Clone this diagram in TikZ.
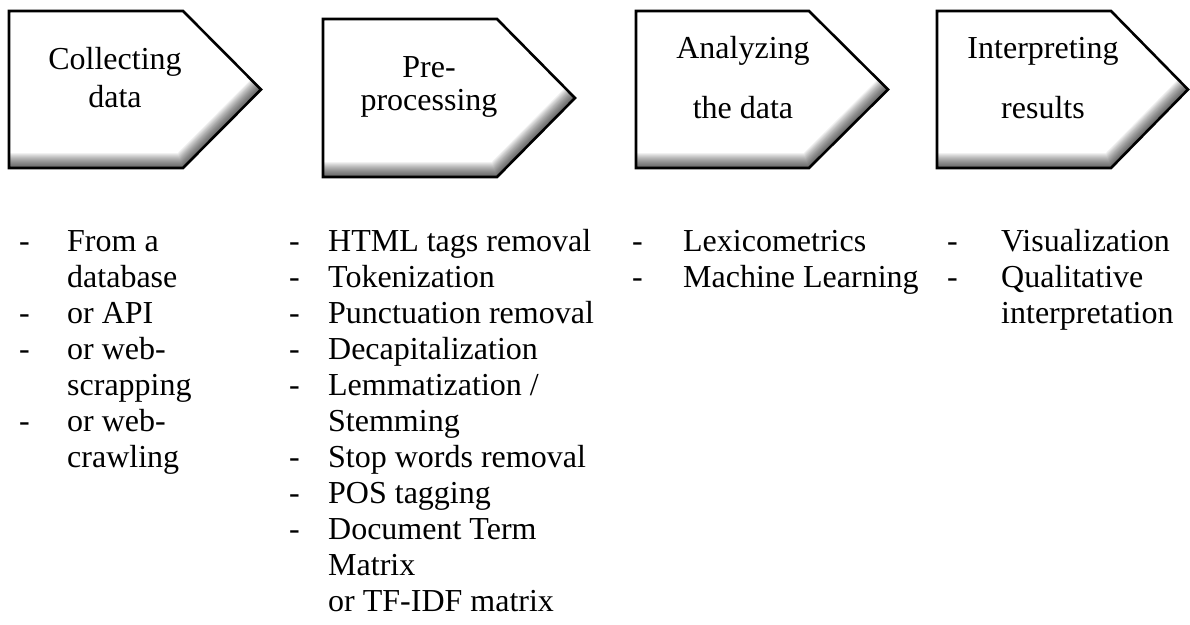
\documentclass[tikz,border=0pt]{standalone}
\usepackage{fontspec}
\setmainfont{Liberation Serif}
\usepackage{array}

% Pentagon outline: left, top, corner x, tip x, bottom; shifted left by #6 and up by #7
\newcommand\stagepath[7]{(#1-#6,#2-#7) -- (#3-#6,#2-#7) -- (#4-#6,{(#2+#5)/2-#7}) -- (#3-#6,#5-#7) -- (#1-#6,#5-#7) -- cycle}

% A stage arrow with a soft inner shadow along its lower and right edges
\newcommand\stageshape[5]{%
  \fill[white] \stagepath{#1}{#2}{#3}{#4}{#5}{0}{0};
  \begin{scope}
    \clip \stagepath{#1}{#2}{#3}{#4}{#5}{0}{0};
    \foreach \s in {1,...,15}{%
      \fill[black,opacity=0.055,even odd rule]
        \stagepath{#1}{#2}{#3}{#4}{#5}{0}{0}
        \stagepath{#1}{#2}{#3}{#4}{#5}{0.35*\s}{\s};
    }
  \end{scope}
  \draw[stageline] \stagepath{#1}{#2}{#3}{#4}{#5}{0}{0};
}

\tikzset{
  stageline/.style={line width=2.6pt, line join=miter, draw=black},
  stagetext/.style={anchor=base, inner sep=0pt, font=\fontsize{32}{36}\selectfont},
  itemlist/.style={anchor=base west, inner sep=0pt, font=\fontsize{32}{36}\selectfont},
}

\begin{document}
\begin{tikzpicture}[x=1pt,y=-1pt]
  \useasboundingbox (0,0) rectangle (1190,624);

  % stage arrows
  \stageshape{9}{11}{183}{261}{168}
  \stageshape{323}{19}{497}{575}{177}
  \stageshape{636}{11}{809}{888}{168}
  \stageshape{937}{11}{1111}{1188}{168}

  % stage titles
  \node[stagetext] (t1) at (115,69)
    {\begin{tabular}[t]{@{}c@{}}Collecting\\[2pt] data\end{tabular}};
  \node[stagetext] (t2) at (429,77)
    {\begin{tabular}[t]{@{}c@{}}Pre-\\[-3pt] processing\end{tabular}};
  \node[stagetext] (t3) at (743,58)
    {\begin{tabular}[t]{@{}c@{}}Analyzing\\[24pt] the data\end{tabular}};
  \node[stagetext] (t4) at (1043,58)
    {\begin{tabular}[t]{@{}c@{}}Interpreting\\[24pt] results\end{tabular}};

  % task lists under each stage
  \node[itemlist] (l1) at (19,251)
    {\begin{tabular}[t]{@{}p{48pt}@{}l@{}}
      - & From a\\
        & database\\
      - & or API\\
      - & or web-\\
        & scrapping\\
      - & or web-\\
        & crawling
    \end{tabular}};
  \node[itemlist] (l2) at (289,251)
    {\begin{tabular}[t]{@{}p{39pt}@{}l@{}}
      - & HTML tags removal\\
      - & Tokenization\\
      - & Punctuation removal\\
      - & Decapitalization\\
      - & Lemmatization /\\
        & Stemming\\
      - & Stop words removal\\
      - & POS tagging\\
      - & Document Term\\
        & Matrix\\
        & or TF-IDF matrix
    \end{tabular}};
  \node[itemlist] (l3) at (632,251)
    {\begin{tabular}[t]{@{}p{51pt}@{}l@{}}
      - & Lexicometrics\\
      - & Machine Learning
    \end{tabular}};
  \node[itemlist] (l4) at (947,251)
    {\begin{tabular}[t]{@{}p{54pt}@{}l@{}}
      - & Visualization\\
      - & Qualitative\\
        & interpretation
    \end{tabular}};
\end{tikzpicture}
\end{document}
